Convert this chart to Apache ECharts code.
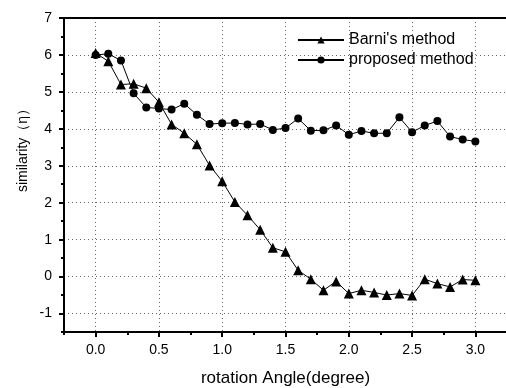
<!DOCTYPE html>
<html>
<head>
<meta charset="utf-8">
<script src="https://cdn.jsdelivr.net/npm/echarts@6/dist/echarts.min.js"></script>
<style>
    html, body { margin: 0; padding: 0; background: #fff; }
    #chart { width: 506px; height: 388px; }
</style>
</head>
<body>
<div id="chart"></div>
<script>
// rotation angle (degree)
const angles = [0.0, 0.1, 0.2, 0.3, 0.4, 0.5, 0.6, 0.7, 0.8, 0.9, 1.0,
    1.1, 1.2, 1.3, 1.4, 1.5, 1.6, 1.7, 1.8, 1.9, 2.0,
    2.1, 2.2, 2.3, 2.4, 2.5, 2.6, 2.7, 2.8, 2.9, 3.0];

const barni = [6.05, 5.83, 5.2, 5.22, 5.1, 4.72, 4.12, 3.88, 3.58, 3.01, 2.58,
    2.02, 1.66, 1.27, 0.78, 0.67, 0.17, -0.07, -0.37, -0.13, -0.46,
    -0.37, -0.43, -0.5, -0.46, -0.51, -0.07, -0.19, -0.28, -0.08, -0.1];

const proposed = [6.0, 6.03, 5.85, 4.96, 4.58, 4.55, 4.52, 4.68, 4.38, 4.13, 4.15,
    4.16, 4.12, 4.13, 3.97, 4.02, 4.28, 3.95, 3.96, 4.09, 3.84,
    3.94, 3.88, 3.88, 4.31, 3.91, 4.09, 4.21, 3.79, 3.71, 3.66];

const xMajor = [0.0, 0.5, 1.0, 1.5, 2.0, 2.5, 3.0];
const xMinor = [-0.25, 0.25, 0.75, 1.25, 1.75, 2.25, 2.75, 3.25];
const yMajor = [-1, 0, 1, 2, 3, 4, 5, 6, 7];
const yMinor = [-1.5, -0.5, 0.5, 1.5, 2.5, 3.5, 4.5, 5.5, 6.5];

const FONT = '"Liberation Sans", Arial, sans-serif';

function pairs(ys) {
    return angles.map((x, i) => [x, ys[i]]);
}

const chart = echarts.init(document.getElementById('chart'));

const tickStyle = { color: '#000', width: 2 };
const dots = { color: '#666', type: [1, 3], width: 1 };

chart.setOption({
    animation: false,
    backgroundColor: '#fff',
    grid: {
        left: 64, top: 18, width: 443, height: 314,
        outerBoundsMode: 'none'
    },
    legend: {
        orient: 'vertical',
        left: 292, top: 27,
        itemWidth: 46, itemHeight: 9, itemGap: 4,
        textStyle: { fontFamily: FONT, fontSize: 16, color: '#000' },
        data: ["Barni's method", 'proposed method']
    },
    graphic: [{
        type: 'text',
        x: 23, y: 147, rotation: Math.PI / 2,
        style: {
            text: 'similarity（η）',
            font: '14px ' + FONT,
            fill: '#000',
            align: 'center', verticalAlign: 'middle'
        }
    }],
    xAxis: [{
        type: 'value', min: -0.25, max: 3.25, interval: 0.25,
        name: 'rotation Angle(degree)', nameLocation: 'middle', nameGap: 38,
        nameTextStyle: { fontFamily: FONT, fontSize: 17, color: '#000' },
        axisLine: { onZero: false, lineStyle: { color: '#000', width: 2 } },
        axisTick: { customValues: xMajor, length: 5, lineStyle: tickStyle },
        axisLabel: {
            customValues: xMajor, margin: 11,
            fontFamily: FONT, fontSize: 14, color: '#000',
            formatter: v => v.toFixed(1)
        },
        splitLine: { show: true, lineStyle: dots }
    }, {
        // minor ticks only
        type: 'value', min: -0.25, max: 3.25, interval: 0.25, position: 'bottom',
        axisLine: { show: false, onZero: false },
        axisTick: { customValues: xMinor, length: 3, lineStyle: tickStyle },
        axisLabel: { show: false },
        splitLine: { show: false }
    }, {
        // top frame
        type: 'value', min: -0.25, max: 3.25, position: 'top',
        axisLine: { show: true, onZero: false, lineStyle: { color: '#000', width: 2 } },
        axisTick: { show: false },
        axisLabel: { show: false },
        splitLine: { show: false }
    }],
    yAxis: [{
        type: 'value', min: -1.5, max: 7, interval: 0.5,
        axisLine: { show: true, onZero: false, lineStyle: { color: '#000', width: 2 } },
        axisTick: { show: true, customValues: yMajor, length: 5, lineStyle: tickStyle },
        axisLabel: {
            customValues: yMajor, margin: 12,
            fontFamily: FONT, fontSize: 14, color: '#000'
        },
        splitLine: { show: true, lineStyle: dots }
    }, {
        type: 'value', min: -1.5, max: 7, interval: 0.5, position: 'left',
        axisLine: { show: false, onZero: false },
        axisTick: { show: true, customValues: yMinor, length: 3, lineStyle: tickStyle },
        axisLabel: { show: false },
        splitLine: { show: false }
    }],
    series: [{
        name: "Barni's method",
        type: 'line',
        data: pairs(barni),
        symbol: 'triangle', symbolSize: 10,
        itemStyle: { color: '#000' },
        lineStyle: { color: '#000', width: 1 }
    }, {
        name: 'proposed method',
        type: 'line',
        data: pairs(proposed),
        symbol: 'circle', symbolSize: 8,
        itemStyle: { color: '#000' },
        lineStyle: { color: '#000', width: 1 }
    }]
});
</script>
</body>
</html>
